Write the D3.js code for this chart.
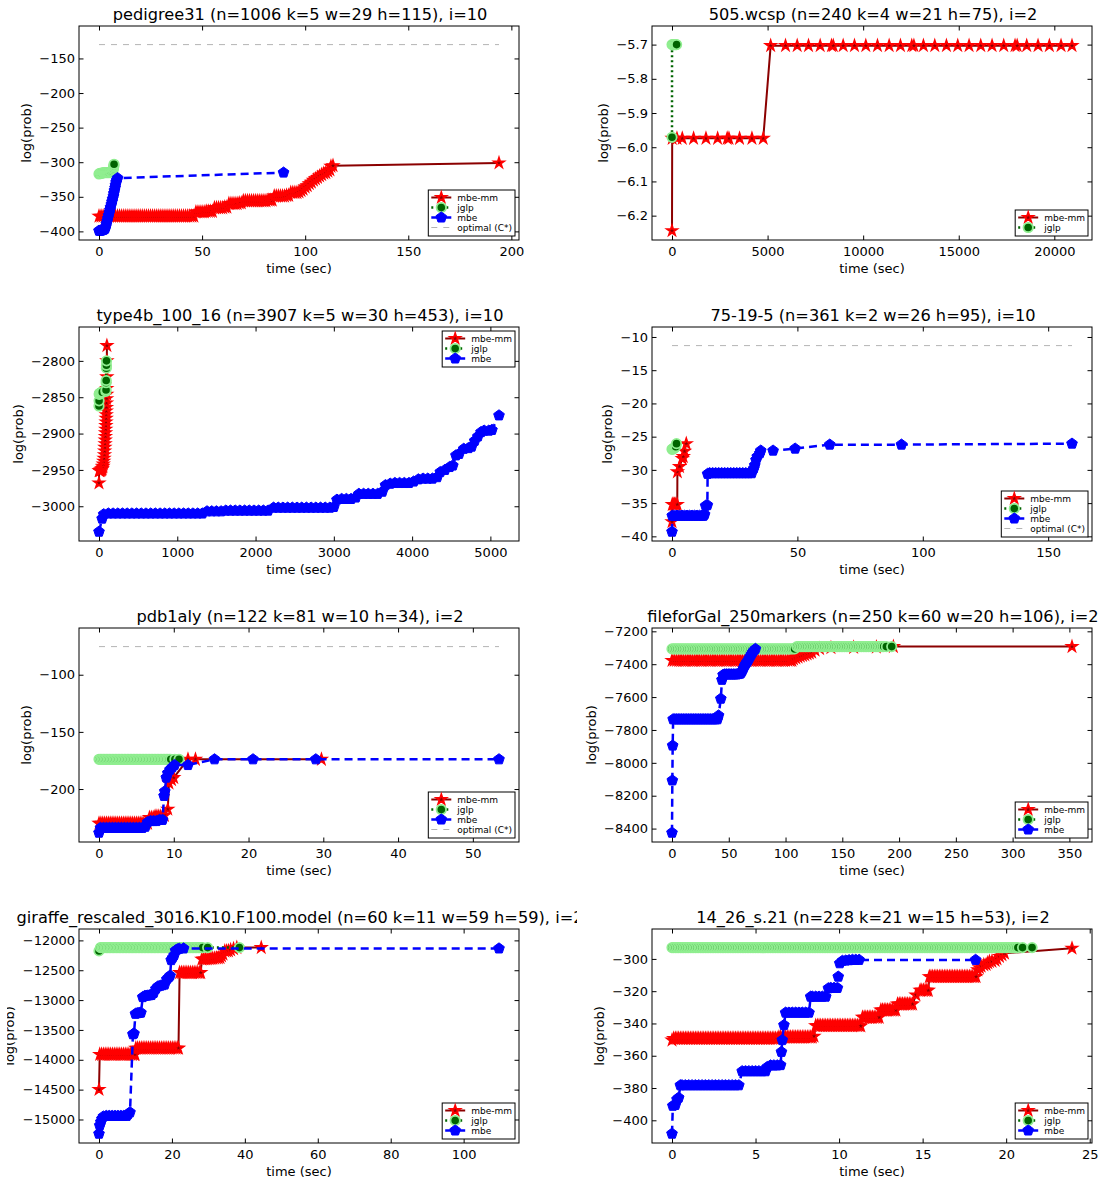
<!DOCTYPE html>
<html>
<head>
<meta charset="utf-8">
<script src="https://cdn.jsdelivr.net/npm/d3@7"></script>
<style>
  html, body { margin: 0; padding: 0; background: #fff; }
  svg { display: block; font-family: "DejaVu Sans", sans-serif; }
</style>
</head>
<body>
<svg id="chart" width="1103" height="1184"></svg>
<script>
// ---------- panel titles ----------
const titles = [
  "pedigree31 (n=1006 k=5 w=29 h=115), i=10",
  "505.wcsp (n=240 k=4 w=21 h=75), i=2",
  "type4b_100_16 (n=3907 k=5 w=30 h=453), i=10",
  "75-19-5 (n=361 k=2 w=26 h=95), i=10",
  "pdb1aly (n=122 k=81 w=10 h=34), i=2",
  "fileforGal_250markers (n=250 k=60 w=20 h=106), i=2",
  "giraffe_rescaled_3016.K10.F100.model (n=60 k=11 w=59 h=59), i=2",
  "14_26_s.21 (n=228 k=21 w=15 h=53), i=2"
];

// ---------- pedigree31 ----------
const pedigreeMbeMm = [[0,-378],[1,-378],[2,-378],[3,-378],[4,-378],[5,-378],[6,-378],[7,-378],[8,-378],[9,-378],[10,-378],[11,-378],[12,-378],[13,-378],[14,-378],[15,-378],[16,-378],[17,-378],[18,-378],[19,-378],[20,-378],[21,-378],[22,-378],[23,-378],[24,-378],[25,-378],[26,-378],[27,-378],[28,-378],[29,-378],[30,-378],[31,-378],[32,-378],[33,-378],[34,-378],[35,-378],[36,-378],[37,-378],[38,-378],[39,-378],[40,-378],[41,-378],[42,-378],[43,-378],[44,-378],[45,-378],[46,-378],
  [47,-372],[48,-372],[49,-372],[50,-372],[51,-372],[52,-371],[53,-371],[54,-371],[55,-371],
  [56,-366],[57,-366],[58,-366],[59,-366],[60,-366],[61,-365],[62,-365],
  [63,-360],[64,-360],[65,-360],[66,-360],[67,-360],[68,-359],[69,-359],
  [70,-356],[71,-356],[72,-356],[73,-356],[74,-356],[75,-356],[76,-356],[77,-356],[78,-356],[79,-356],[80,-356],[81,-356],[82,-355],[83,-355],[84,-355],
  [85,-349],[86,-349],[87,-349],[88,-349],[89,-349],[90,-349],[91,-348],[92,-348],
  [93,-344],[94,-344],[95,-344],[96,-344],[97,-343],
  [98,-341],[99,-339],[100,-336],[101,-334],[102,-331],[103,-329],[104,-326],[105,-324],[106,-322],[107,-320],[108,-318],[109,-316],[110,-315],[111,-313],[112,-311],[112.5,-306],[113.5,-305],[194,-301]];
const pedigreeJglp = [[0,-317],[0.5,-316],[1,-316],[1.5,-316],[2,-315],[2.5,-315],[3,-315],[3.5,-315],[4,-315],[4.5,-315],[5,-315],[5.5,-314],[6,-314],[6.5,-313],[6.8,-311],[7,-309],[7.1,-307],[7.2,-305],[7.3,-303]];
const pedigreeMbe = [[0,-399],[0.5,-399],[1,-399],[1.5,-398],[2,-398],[2.5,-397],[3,-396],[3.3,-393],[3.6,-389],[4,-385],[4.3,-381],[4.6,-377],[5,-373],[5.3,-369],[5.6,-365],[6,-361],[6.3,-357],[6.6,-353],[7,-349],[7.2,-345],[7.5,-341],[7.8,-337],[8,-333],[8.3,-329],[8.6,-326],[9,-323],[89.5,-315]];
const pedigreeOptimal = -130;
const pedigreeXTicks = [0, 50, 100, 150, 200];
const pedigreeYTicks = [-400, -350, -300, -250, -200, -150];

// ---------- 505.wcsp ----------
const wcspMbeMm = [[0,-6.244],[10,-5.974],[259,-5.974],[537,-5.974],[1129,-5.974],[1776,-5.974],[2387,-5.974],[2886,-5.974],[2979,-5.974],[3534,-5.974],[4181,-5.974],[4773,-5.974],
  [5162,-5.703],[5939,-5.703],[6550,-5.703],[7142,-5.703],[7752,-5.703],[8344,-5.703],[8437,-5.703],[8955,-5.703],[9547,-5.703],[10139,-5.703],[10750,-5.703],[11360,-5.703],[11952,-5.703],[12544,-5.703],[12655,-5.703],[13154,-5.703],[13747,-5.703],[14357,-5.703],[14949,-5.703],[15541,-5.703],[16152,-5.703],[16744,-5.703],[17354,-5.703],[17946,-5.703],[18057,-5.703],[18557,-5.703],[19149,-5.703],[19741,-5.703],[20352,-5.703],[20925,-5.703]];
const wcspJglp = [[0,-5.971],[2,-5.70],[50,-5.70],[100,-5.70],[150,-5.70],[200,-5.70],[240,-5.70]];
const wcspXTicks = [0, 5000, 10000, 15000, 20000];
const wcspYTicks = [-6.2, -6.1, -6.0, -5.9, -5.8, -5.7];

// ---------- type4b_100_16 ----------
const type4bMbeMm = [[0,-2968],[2,-2951],[8,-2951],[15,-2951],[22,-2950],[30,-2950],[35,-2949],[40,-2948],[45,-2946],[50,-2945],[55,-2942],[60,-2938],[65,-2934],[70,-2929],[72,-2924],[75,-2919],[78,-2914],[80,-2909],[82,-2904],[84,-2899],[86,-2894],[88,-2889],[90,-2884],[92,-2879],[93,-2874],[94,-2869],[95,-2864],[96,-2858],[97,-2852],[98,-2846],[99,-2838],[100,-2822],[100.5,-2800],[101,-2779]];
const type4bJglp = [[0,-2862],[1,-2855],[2,-2846],[6,-2845],[12,-2845],[18,-2844],[24,-2844],[30,-2844],[36,-2843],[42,-2843],[88,-2842],[90,-2840],[91,-2830],[92,-2827],[94,-2810],[95,-2806],[96,-2800]];
const type4bMbe = [[0,-3035],[40,-3017],[60,-3011],[120,-3010],[180,-3010],[240,-3010],[300,-3010],[360,-3010],[420,-3010],[480,-3010],[540,-3010],[600,-3010],[660,-3010],[720,-3010],[780,-3010],[840,-3010],[900,-3010],[960,-3010],[1020,-3010],[1080,-3010],[1140,-3010],[1200,-3010],[1260,-3010],[1320,-3010],
  [1380,-3007],[1440,-3007],[1500,-3007],[1560,-3007],[1620,-3006],[1680,-3006],[1740,-3006],[1800,-3006],[1860,-3006],[1920,-3006],[1980,-3006],[2040,-3006],[2100,-3006],[2160,-3006],
  [2230,-3002],[2290,-3002],[2350,-3002],[2410,-3002],[2470,-3002],[2530,-3002],[2590,-3002],[2650,-3002],[2710,-3002],[2770,-3002],[2830,-3002],[2890,-3002],[2950,-3002],[3000,-3001],
  [3040,-2991],[3100,-2990],[3160,-2990],[3220,-2990],[3280,-2988],[3320,-2983],[3380,-2983],[3440,-2983],[3500,-2983],[3560,-2983],[3620,-2980],[3660,-2971],[3720,-2969],[3780,-2968],[3840,-2968],[3900,-2968],[3960,-2968],
  [4020,-2966],[4080,-2963],[4140,-2962],[4200,-2962],[4260,-2962],[4320,-2960],[4360,-2953],[4420,-2950],[4480,-2946],[4520,-2944],[4560,-2930],[4600,-2928],[4660,-2921],[4720,-2920],[4760,-2918],[4800,-2910],[4840,-2904],[4880,-2898],[4920,-2896],[4980,-2896],[5020,-2895],[5110,-2875]];
const type4bXTicks = [0, 1000, 2000, 3000, 4000, 5000];
const type4bYTicks = [-3000, -2950, -2900, -2850, -2800];

// ---------- 75-19-5 ----------
const grid75MbeMm = [[0,-37.8],[0.1,-35.2],[0.5,-35.2],[1,-35.2],[1.5,-35.2],[2.1,-35.2],[2.15,-30.3],[3,-29.5],[4.1,-28.3],[4.5,-28],[5,-27.2],[5.7,-26.05]];
const grid75Jglp = [[0,-26.9],[0.3,-26.85],[0.6,-26.8],[0.9,-26.7],[1.2,-26.6],[1.5,-26.5],[1.8,-26.05]];
const grid75Mbe = [[0,-39.3],[0.1,-36.9],[1,-36.9],[2,-36.9],[3,-36.9],[4,-36.9],[5,-36.9],[6,-36.9],[7,-36.9],[8,-36.9],[9,-36.9],[10,-36.9],[11,-36.9],[12,-36.9],[12.6,-36.9],[13,-36.7],[13.4,-35.4],[14.1,-35.3],
  [14.2,-30.6],[15,-30.5],[16.2,-30.5],[17.4,-30.5],[18.6,-30.5],[19.8,-30.5],[21,-30.5],[22.2,-30.5],[23.4,-30.5],[24.6,-30.5],[25.8,-30.5],[27,-30.5],[28.2,-30.5],[29.4,-30.5],[30.6,-30.5],[31.8,-30.5],
  [32.6,-29.8],[33,-29.3],[33.5,-28.5],[34,-28],[35,-27.5],[35.4,-27.1],[40.3,-27.1],[49.1,-26.8],[62.9,-26.2],[91.5,-26.2],[159.5,-26.05]];
const grid75Optimal = -11.3;
const grid75XTicks = [0, 50, 100, 150];
const grid75YTicks = [-40, -35, -30, -25, -20, -15, -10];

// ---------- pdb1aly ----------
const pdbMbeMm = [[0,-230],[0.25,-230],[0.5,-230],[0.75,-230],[1,-230],[1.25,-230],[1.5,-230],[1.75,-230],[2,-230],[2.25,-230],[2.5,-230],[2.75,-230],[3,-230],[3.25,-230],[3.5,-230],[3.75,-230],[4,-230],[4.25,-230],[4.5,-230],[4.75,-230],[5,-230],[5.25,-230],[5.5,-230],[5.75,-230],[6,-230],[6.25,-230],[6.5,-230],
  [6.75,-225],[7,-225],[7.25,-225],[7.5,-224],[7.75,-224],[8,-224],[8.25,-224],[8.5,-224],[8.75,-223],[9.2,-217.6],[9.36,-194.8],[9.7,-191.9],[10,-190],[11.9,-174],[12.9,-174],[29.75,-174]];
const pdbJglp = [[0,-174],[0.2,-174],[0.4,-174],[0.6,-174],[0.8,-174],[1,-174],[1.2,-174],[1.4,-174],[1.6,-174],[1.8,-174],[2,-174],[2.2,-174],[2.4,-174],[2.6,-174],[2.8,-174],[3,-174],[3.2,-174],[3.4,-174],[3.6,-174],[3.8,-174],
  [4,-174],[4.2,-174],[4.4,-174],[4.6,-174],[4.8,-174],[5,-174],[5.2,-174],[5.4,-174],[5.6,-174],[5.8,-174],[6,-174],[6.2,-174],[6.4,-174],[6.6,-174],[6.8,-174],[7,-174],[7.2,-174],[7.4,-174],[7.6,-174],[7.8,-174],
  [8,-174],[8.2,-174],[8.4,-174],[8.6,-174],[8.8,-174],[9,-174],[9.2,-174],[9.4,-174],[9.6,-174],[10.15,-174],[10.7,-174]];
const pdbMbe = [[0,-238.2],[0.2,-234],[0.6,-234],[1,-234],[1.4,-234],[1.8,-234],[2.2,-234],[2.6,-234],[3,-234],[3.4,-234],[3.8,-234],[4.2,-234],[4.6,-234],[5,-234],[5.4,-234],[5.8,-234],[6.2,-233],
  [6.5,-229],[6.9,-228],[7.3,-228],[7.7,-228],[8.1,-227],[8.5,-227],[8.7,-206],[8.8,-202],[9,-190],[9.2,-186],[9.5,-183],[9.8,-181],[10.1,-179],[11.9,-179],[15.45,-174],[20.6,-174],[29,-174],[53.5,-174]];
const pdbOptimal = -75.4;
const pdbXTicks = [0, 10, 20, 30, 40, 50];
const pdbYTicks = [-200, -150, -100];

// ---------- fileforGal_250markers ----------
const gal250MbeMm = [[0,-7377],[2,-7377],[4,-7377],[6,-7377],[8,-7377],[10,-7377],[12,-7377],[14,-7377],[16,-7377],[18,-7377],[20,-7377],[22,-7377],[24,-7377],[26,-7377],[28,-7377],[30,-7377],[32,-7377],[34,-7377],[36,-7377],[38,-7377],[40,-7377],[42,-7377],[44,-7377],[46,-7377],[48,-7377],[50,-7377],[52,-7377],[54,-7377],[56,-7377],[58,-7377],[60,-7377],[62,-7377],[64,-7377],[66,-7377],[68,-7377],[70,-7377],[72,-7377],[74,-7377],[76,-7377],[78,-7377],[80,-7377],[82,-7377],[84,-7377],[86,-7377],[88,-7377],[90,-7377],[92,-7377],[94,-7377],[96,-7377],[98,-7377],[100,-7377],[102,-7377],[104,-7377],[105.6,-7377],
  [107,-7368],[109,-7362],[111,-7357],[113,-7352],[115,-7347],[117,-7343],[119,-7338],[121,-7333],[123,-7327],[126,-7315],[130,-7305],[140,-7300],[160,-7298],[180,-7296],[195,-7293],[352.3,-7293]];
const gal250Jglp = [[0,-7307],[1.5,-7307],[3,-7307],[4.5,-7307],[6,-7307],[7.5,-7307],[9,-7307],[10.5,-7307],[12,-7307],[13.5,-7307],[15,-7307],[16.5,-7307],[18,-7307],[19.5,-7307],[21,-7307],[22.5,-7307],[24,-7307],[25.5,-7307],[27,-7307],[28.5,-7307],
  [30,-7307],[31.5,-7307],[33,-7307],[34.5,-7307],[36,-7307],[37.5,-7307],[39,-7307],[40.5,-7307],[42,-7307],[43.5,-7307],[45,-7307],[46.5,-7307],[48,-7307],[49.5,-7307],[51,-7307],[52.5,-7307],[54,-7307],[55.5,-7307],[57,-7307],[58.5,-7307],
  [60,-7307],[61.5,-7307],[63,-7307],[64.5,-7307],[66,-7307],[67.5,-7307],[69,-7307],[70.5,-7307],[72,-7307],[73.5,-7307],[75,-7307],[76.5,-7307],[78,-7307],[79.5,-7307],[81,-7307],[82.5,-7307],[84,-7307],[85.5,-7307],[87,-7307],[88.5,-7307],
  [90,-7307],[91.5,-7307],[93,-7307],[94.5,-7307],[96,-7307],[97.5,-7307],[99,-7307],[100.5,-7307],[102,-7307],[103.5,-7307],[105,-7307],[106.5,-7307],[108,-7307],
  [110,-7293],[111.5,-7293],[113,-7293],[114.5,-7293],[116,-7293],[117.5,-7293],[119,-7293],[120.5,-7293],[122,-7293],[123.5,-7293],[125,-7293],[126.5,-7293],[128,-7293],[129.5,-7293],[131,-7293],[132.5,-7293],[134,-7293],[135.5,-7293],[137,-7293],[138.5,-7293],
  [140,-7293],[141.5,-7293],[143,-7293],[144.5,-7293],[146,-7293],[147.5,-7293],[149,-7293],[150.5,-7293],[152,-7293],[153.5,-7293],[155,-7293],[156.5,-7293],[158,-7293],[159.5,-7293],[161,-7293],[162.5,-7293],[164,-7293],[165.5,-7293],[167,-7293],[168.5,-7293],
  [170,-7293],[171.5,-7293],[173,-7293],[174.5,-7293],[176,-7293],[177.5,-7293],[179,-7293],[180.5,-7293],[182,-7293],[183.5,-7293],[185,-7293],[186.5,-7293],[188.8,-7293],[193.5,-7293]];
const gal250Mbe = [[0,-8425],[0.3,-8107],[0.6,-7895],[1,-7735],[2.5,-7735],[4,-7735],[5.5,-7735],[7,-7735],[8.5,-7735],[10,-7735],[11.5,-7735],[13,-7735],[14.5,-7735],[16,-7735],[17.5,-7735],[19,-7735],[20.5,-7735],[22,-7735],[23.5,-7735],[25,-7735],[26.5,-7735],[28,-7735],[29.5,-7735],[31,-7735],[32.5,-7735],[34,-7735],[35.5,-7735],[37,-7735],[38.5,-7735],[40,-7735],
  [41,-7712],[43,-7610],[44,-7495],[45,-7465],[46.5,-7462],[48,-7462],[49.5,-7462],[51,-7462],[52.5,-7462],[54,-7462],[55.5,-7462],[57,-7462],[58.5,-7460],[60,-7458],[61,-7452],[62,-7440],[63,-7425],[64,-7410],[65,-7398],[66,-7388],[67,-7378],[68,-7365],[69,-7352],[70,-7340],[71,-7328],[72,-7318],[73.5,-7307]];
const gal250XTicks = [0, 50, 100, 150, 200, 250, 300, 350];
const gal250YTicks = [-8400, -8200, -8000, -7800, -7600, -7400, -7200];

// ---------- giraffe_rescaled_3016 ----------
const giraffeMbeMm = [[0,-14498],[0.2,-13910],[0.7,-13910],[1.2,-13910],[1.7,-13910],[2.2,-13910],[2.7,-13910],[3.2,-13910],[3.7,-13910],[4.2,-13910],[4.7,-13910],[5.2,-13910],[5.7,-13910],[6.2,-13910],[6.7,-13910],[7.2,-13910],[7.7,-13910],[8.2,-13910],[8.7,-13910],[9.2,-13910],[9.7,-13910],[9.9,-13910],
  [10.1,-13805],[10.6,-13805],[11.1,-13805],[11.6,-13805],[12.1,-13805],[12.6,-13805],[13.1,-13805],[13.6,-13805],[14.1,-13805],[14.6,-13805],[15.1,-13805],[15.6,-13805],[16.1,-13805],[16.6,-13805],[17.1,-13805],[17.6,-13805],[18.1,-13805],[18.6,-13805],[19.1,-13805],[19.6,-13805],[20.1,-13805],[20.6,-13805],[21.1,-13805],[21.6,-13805],[21.8,-13805],
  [22.1,-12540],[22.6,-12540],[23.1,-12540],[23.6,-12540],[24.1,-12540],[24.6,-12540],[25.1,-12540],[25.6,-12540],[26.1,-12540],[26.6,-12540],[27.1,-12540],[27.6,-12540],[27.9,-12540],
  [28.2,-12315],[28.7,-12312],[29.2,-12310],[29.7,-12310],[30.2,-12307],[30.7,-12305],[31.2,-12302],[31.7,-12300],[32.2,-12295],[32.7,-12292],[33.2,-12288],[33.6,-12260],[34,-12230],[34.5,-12180],[35,-12178],[35.5,-12175],[36.1,-12160],[36.9,-12140],[37.8,-12121],[44.5,-12121]];
const giraffeJglp = [[0,-12176],[0.4,-12121],[0.8,-12121],[1.2,-12121],[1.6,-12121],[2,-12121],[2.4,-12121],[2.8,-12121],[3.2,-12121],[3.6,-12121],[4,-12121],[4.4,-12121],[4.8,-12121],[5.2,-12121],[5.6,-12121],[6,-12121],[6.4,-12121],[6.8,-12121],[7.2,-12121],[7.6,-12121],
  [8,-12121],[8.4,-12121],[8.8,-12121],[9.2,-12121],[9.6,-12121],[10,-12121],[10.4,-12121],[10.8,-12121],[11.2,-12121],[11.6,-12121],[12,-12121],[12.4,-12121],[12.8,-12121],[13.2,-12121],[13.6,-12121],[14,-12121],[14.4,-12121],[14.8,-12121],[15.2,-12121],[15.6,-12121],
  [16,-12121],[16.4,-12121],[16.8,-12121],[17.2,-12121],[17.6,-12121],[18,-12121],[18.4,-12121],[18.8,-12121],[19.2,-12121],[19.6,-12121],[20,-12121],[20.4,-12121],[20.8,-12121],[21.2,-12121],[21.6,-12121],[22,-12121],[22.4,-12121],[22.8,-12121],[23.2,-12121],[23.6,-12121],
  [24,-12121],[24.4,-12121],[24.8,-12121],[25.2,-12121],[25.6,-12121],[26,-12121],[26.4,-12121],[26.8,-12121],[27.2,-12121],[27.6,-12121],[28,-12121],[28.4,-12121],[29.8,-12121],[38.5,-12121]];
const giraffeMbe = [[0,-15238],[0.2,-15100],[0.5,-15040],[0.8,-14990],[1.2,-14950],[2,-14940],[2.8,-14940],[3.6,-14940],[4.4,-14940],[5.2,-14940],[6,-14940],[6.8,-14940],[7.6,-14940],[8,-14910],[8.5,-14880],
  [9.3,-13572],[9.6,-13560],[10,-13230],[10.5,-13220],[11,-13215],[11.5,-13210],[12,-12950],[12.6,-12930],[13.2,-12925],[13.8,-12920],[14.4,-12915],[15,-12880],[15.6,-12810],[16.2,-12770],[16.8,-12760],[17.4,-12750],[18,-12740],[18.6,-12650],[19.1,-12620],[19.5,-12590],[19.8,-12330],[20.2,-12290],[20.6,-12250],[21,-12170],[21.5,-12150],[22,-12140],[23.2,-12135],[109.7,-12135]];
const giraffeXTicks = [0, 20, 40, 60, 80, 100];
const giraffeYTicks = [-15000, -14500, -14000, -13500, -13000, -12500, -12000];

// ---------- 14_26_s.21 ----------
const s21MbeMm = [[0,-350.3],
  [0.1,-349.3],[0.2,-349.3],[0.3,-349.3],[0.4,-349.3],[0.5,-349.3],[0.6,-349.3],[0.7,-349.3],[0.8,-349.3],[0.9,-349.3],[1,-349.3],[1.1,-349.3],[1.2,-349.3],[1.3,-349.3],[1.4,-349.3],[1.5,-349.3],[1.6,-349.3],[1.7,-349.3],[1.8,-349.3],[1.9,-349.3],[2,-349.3],
  [2.1,-349.3],[2.2,-349.3],[2.3,-349.3],[2.4,-349.3],[2.5,-349.3],[2.6,-349.3],[2.7,-349.3],[2.8,-349.3],[2.9,-349.3],[3,-349.3],[3.1,-349.3],[3.2,-349.3],[3.3,-349.3],[3.4,-349.3],[3.5,-349.3],[3.6,-349.3],[3.7,-349.3],[3.8,-349.3],[3.9,-349.3],[4,-349.3],
  [4.1,-349.3],[4.2,-349.3],[4.3,-349.3],[4.4,-349.3],[4.5,-349.3],[4.6,-349.3],[4.7,-349.3],[4.8,-349.3],[4.9,-349.3],[5,-349.3],[5.1,-349.3],[5.2,-349.3],[5.3,-349.3],[5.4,-349.3],[5.5,-349.3],[5.6,-349.3],[5.7,-349.3],[5.8,-349.3],[5.9,-349.3],[6,-349.3],
  [6.1,-349.3],[6.2,-349.3],[6.3,-349.3],[6.4,-348.5],[6.5,-348.5],[6.6,-348.5],[6.7,-348.5],[6.8,-348.5],[6.9,-348.5],[7,-348.5],[7.1,-348.5],[7.2,-348.5],[7.3,-348.5],[7.4,-348.5],[7.5,-348.5],[7.6,-348.5],[7.7,-348.5],[7.8,-348.5],[7.9,-348.5],[8,-348.5],
  [8.1,-348.5],[8.2,-348.5],[8.3,-348.5],[8.4,-348.5],[8.5,-347.9],
  [8.6,-341.4],[8.7,-341.4],[8.8,-341.4],[8.9,-341.4],[9,-341.4],[9.1,-341.4],[9.2,-341.4],[9.3,-341.4],[9.4,-341.4],[9.5,-341.4],[9.6,-341.4],[9.7,-341.4],[9.8,-341.4],[9.9,-341.4],[10,-341.4],
  [10.1,-341.4],[10.2,-341.4],[10.3,-341.4],[10.4,-341.4],[10.5,-341.4],[10.6,-341.4],[10.7,-341.4],[10.8,-341.4],[10.9,-341.4],[11,-341.4],[11.1,-341.4],[11.2,-341.4],[11.3,-341.6],
  [11.4,-336.2],[11.5,-336.2],[11.6,-336.2],[11.7,-336.2],[11.8,-336.2],[11.9,-336.2],[12,-336.2],[12.1,-336.2],[12.2,-336.2],[12.3,-336.2],[12.4,-336.2],
  [12.5,-331.7],[12.6,-331.7],[12.7,-331.7],[12.8,-331.7],[12.9,-331.7],[13,-331.7],[13.1,-331.7],[13.2,-331.7],[13.3,-331.7],[13.4,-331.7],
  [13.5,-328],[13.6,-328],[13.7,-328],[13.8,-328],[13.9,-328],[14,-328],[14.1,-328],[14.2,-328],[14.3,-328],[14.4,-328],
  [14.6,-322.4],[14.85,-319.5],[14.95,-319.5],[15.05,-319.5],[15.15,-319.5],[15.25,-319.5],[15.34,-319.5],
  [15.4,-311],[15.5,-311],[15.6,-311],[15.7,-311],[15.8,-311],[15.9,-311],[16,-311],[16.1,-311],[16.2,-311],[16.3,-311],[16.4,-311],[16.5,-311],[16.6,-311],[16.7,-311],[16.8,-311],
  [16.9,-311],[17,-311],[17.1,-311],[17.2,-311],[17.3,-311],[17.4,-311],[17.5,-311],[17.6,-311],[17.7,-311],[17.8,-311],[17.9,-311],[18,-311],[18.1,-311],[18.2,-311],
  [18.3,-306.8],[18.4,-305.5],[18.5,-304.5],[18.66,-303.7],[18.8,-303.5],[18.9,-302.5],[19,-301.7],[19.15,-301.5],[19.34,-301],[19.45,-300],[19.6,-298.5],[19.75,-297.5],[19.9,-296.5],[23.94,-293.4]];
const s21Jglp = [[0,-293],[0.1,-293],[0.2,-293],[0.3,-293],[0.4,-293],[0.5,-293],[0.6,-293],[0.7,-293],[0.8,-293],[0.9,-293],[1,-293],[1.1,-293],[1.2,-293],[1.3,-293],[1.4,-293],[1.5,-293],[1.6,-293],[1.7,-293],[1.8,-293],[1.9,-293],
  [2,-293],[2.1,-293],[2.2,-293],[2.3,-293],[2.4,-293],[2.5,-293],[2.6,-293],[2.7,-293],[2.8,-293],[2.9,-293],[3,-293],[3.1,-293],[3.2,-293],[3.3,-293],[3.4,-293],[3.5,-293],[3.6,-293],[3.7,-293],[3.8,-293],[3.9,-293],
  [4,-293],[4.1,-293],[4.2,-293],[4.3,-293],[4.4,-293],[4.5,-293],[4.6,-293],[4.7,-293],[4.8,-293],[4.9,-293],[5,-293],[5.1,-293],[5.2,-293],[5.3,-293],[5.4,-293],[5.5,-293],[5.6,-293],[5.7,-293],[5.8,-293],[5.9,-293],
  [6,-293],[6.1,-293],[6.2,-293],[6.3,-293],[6.4,-293],[6.5,-293],[6.6,-293],[6.7,-293],[6.8,-293],[6.9,-293],[7,-293],[7.1,-293],[7.2,-293],[7.3,-293],[7.4,-293],[7.5,-293],[7.6,-293],[7.7,-293],[7.8,-293],[7.9,-293],
  [8,-293],[8.1,-293],[8.2,-293],[8.3,-293],[8.4,-293],[8.5,-293],[8.6,-293],[8.7,-293],[8.8,-293],[8.9,-293],[9,-293],[9.1,-293],[9.2,-293],[9.3,-293],[9.4,-293],[9.5,-293],[9.6,-293],[9.7,-293],[9.8,-293],[9.9,-293],
  [10,-293],[10.1,-293],[10.2,-293],[10.3,-293],[10.4,-293],[10.5,-293],[10.6,-293],[10.7,-293],[10.8,-293],[10.9,-293],[11,-293],[11.1,-293],[11.2,-293],[11.3,-293],[11.4,-293],[11.5,-293],[11.6,-293],[11.7,-293],[11.8,-293],[11.9,-293],
  [12,-293],[12.1,-293],[12.2,-293],[12.3,-293],[12.4,-293],[12.5,-293],[12.6,-293],[12.7,-293],[12.8,-293],[12.9,-293],[13,-293],[13.1,-293],[13.2,-293],[13.3,-293],[13.4,-293],[13.5,-293],[13.6,-293],[13.7,-293],[13.8,-293],[13.9,-293],
  [14,-293],[14.1,-293],[14.2,-293],[14.3,-293],[14.4,-293],[14.5,-293],[14.6,-293],[14.7,-293],[14.8,-293],[14.9,-293],[15,-293],[15.1,-293],[15.2,-293],[15.3,-293],[15.4,-293],[15.5,-293],[15.6,-293],[15.7,-293],[15.8,-293],[15.9,-293],
  [16,-293],[16.1,-293],[16.2,-293],[16.3,-293],[16.4,-293],[16.5,-293],[16.6,-293],[16.7,-293],[16.8,-293],[16.9,-293],[17,-293],[17.1,-293],[17.2,-293],[17.3,-293],[17.4,-293],[17.5,-293],[17.6,-293],[17.7,-293],[17.8,-293],[17.9,-293],
  [18,-293],[18.1,-293],[18.2,-293],[18.3,-293],[18.4,-293],[18.5,-293],[18.6,-293],[18.7,-293],[18.8,-293],[18.9,-293],[19,-293],[19.1,-293],[19.2,-293],[19.3,-293],[19.4,-293],[19.5,-293],[19.6,-293],[19.7,-293],[19.8,-293],[19.9,-293],
  [20,-293],[20.1,-293],[20.2,-293],[20.3,-293],[20.4,-293],[20.5,-293],[20.6,-293],[20.7,-293],[20.98,-293],[21.55,-293]];
const s21Mbe = [[0,-408.3],[0.05,-391],[0.2,-390.5],[0.3,-387],[0.4,-386],[0.5,-378.3],[0.6,-378.3],[0.8,-378.3],[1,-378.3],[1.2,-378.3],[1.4,-378.3],[1.6,-378.3],[1.8,-378.3],[2,-378.3],[2.2,-378.3],[2.4,-378.3],[2.6,-378.3],[2.8,-378.3],[3,-378.3],[3.2,-378.3],[3.4,-378.3],[3.6,-378.3],[3.8,-378.3],[4,-378.3],
  [4.2,-369.6],[4.4,-369.6],[4.6,-369.6],[4.8,-369.6],[5,-369.6],[5.2,-369.6],[5.4,-369.6],[5.6,-369.6],[5.7,-367],[5.9,-366],[6.1,-366],[6.3,-366],[6.5,-365.8],[6.55,-357.6],[6.6,-350.3],[6.7,-341],[6.8,-333.3],
  [7,-333.3],[7.2,-333.3],[7.4,-333.3],[7.6,-333.3],[7.8,-333.3],[8,-333.3],[8.2,-333.3],[8.3,-323.4],[8.4,-323.4],[8.6,-323.4],[8.8,-323.4],[9,-323.4],[9.2,-323.4],
  [9.36,-318.2],[9.5,-318],[9.7,-318],[9.9,-318],[9.95,-311],[10.04,-302.7],[10.2,-301.2],[10.4,-301],[10.6,-300.8],[10.8,-300.6],[11,-300.6],[11.2,-300.6],[18.17,-300.6]];
const s21XTicks = [0, 5, 10, 15, 20, 25];
const s21YTicks = [-400, -380, -360, -340, -320, -300];

// ---------- styles ----------
const SERIES_KEYS = ["mbeMm", "jglp", "mbe"];
const STYLE = {
  mbeMm: { label: "mbe-mm", line: "#8b0000", width: 2, dash: null, marker: "star", fill: "#8b0000", stroke: "#ff0000", sw: 1.8 },
  jglp:  { label: "jglp", line: "#006400", width: 2.5, dash: "2,3", marker: "circle", fill: "#006400", stroke: "#90ee90", sw: 1.8 },
  mbe:   { label: "mbe", line: "#0000ff", width: 2.5, dash: "8,5", marker: "pentagon", fill: "#0000ff", stroke: "#0000ff", sw: 1 },
  optimal: { label: "optimal (C*)", line: "#b4b4b4", width: 1, dash: "6,6" }
};

function polyPath(pts) {
  return "M" + pts.map(p => p[0].toFixed(2) + "," + p[1].toFixed(2)).join("L") + "Z";
}
const MARKER = {
  star: (() => {
    const R = 5.2, r = R * 0.381966, pts = [];
    for (let k = 0; k < 10; k++) {
      const a = -Math.PI / 2 + k * Math.PI / 5, rr = k % 2 === 0 ? R : r;
      pts.push([rr * Math.cos(a), rr * Math.sin(a)]);
    }
    return polyPath(pts);
  })(),
  circle: (() => { const r = 4.7; return `M${r},0A${r},${r} 0 1 1 ${-r},0A${r},${r} 0 1 1 ${r},0Z`; })(),
  pentagon: (() => {
    const R = 5.6, pts = [];
    for (let k = 0; k < 5; k++) {
      const a = -Math.PI / 2 + k * 2 * Math.PI / 5;
      pts.push([R * Math.cos(a), R * Math.sin(a)]);
    }
    return polyPath(pts);
  })()
};

const fmtInt = d3.format("d");
const fmtOne = d3.format(".1f");

const panels = [
  { title: titles[0], series: { mbeMm: pedigreeMbeMm, jglp: pedigreeJglp, mbe: pedigreeMbe }, optimal: pedigreeOptimal, xTicks: pedigreeXTicks, yTicks: pedigreeYTicks, yFmt: fmtInt, legend: "lower" },
  { title: titles[1], series: { mbeMm: wcspMbeMm, jglp: wcspJglp }, optimal: null, xTicks: wcspXTicks, yTicks: wcspYTicks, yFmt: fmtOne, legend: "lower" },
  { title: titles[2], series: { mbeMm: type4bMbeMm, jglp: type4bJglp, mbe: type4bMbe }, optimal: null, xTicks: type4bXTicks, yTicks: type4bYTicks, yFmt: fmtInt, legend: "upper" },
  { title: titles[3], series: { mbeMm: grid75MbeMm, jglp: grid75Jglp, mbe: grid75Mbe }, optimal: grid75Optimal, xTicks: grid75XTicks, yTicks: grid75YTicks, yFmt: fmtInt, legend: "lower" },
  { title: titles[4], series: { mbeMm: pdbMbeMm, jglp: pdbJglp, mbe: pdbMbe }, optimal: pdbOptimal, xTicks: pdbXTicks, yTicks: pdbYTicks, yFmt: fmtInt, legend: "lower" },
  { title: titles[5], series: { mbeMm: gal250MbeMm, jglp: gal250Jglp, mbe: gal250Mbe }, optimal: null, xTicks: gal250XTicks, yTicks: gal250YTicks, yFmt: fmtInt, legend: "lower" },
  { title: titles[6], series: { mbeMm: giraffeMbeMm, jglp: giraffeJglp, mbe: giraffeMbe }, optimal: null, xTicks: giraffeXTicks, yTicks: giraffeYTicks, yFmt: fmtInt, legend: "lower" },
  { title: titles[7], series: { mbeMm: s21MbeMm, jglp: s21Jglp, mbe: s21Mbe }, optimal: null, xTicks: s21XTicks, yTicks: s21YTicks, yFmt: fmtInt, legend: "lower" }
];

// ---------- layout ----------
const colLeft = [79, 652];
const rowTop = [26, 327, 628, 929];
const PW = 440, PH = 214, TICK = 4.5, FONT = 13;

const svg = d3.select("#chart");
const defs = svg.append("defs");
defs.append("clipPath").attr("id", "left-edge").append("rect").attr("x", 7).attr("y", 0).attr("width", 1100).attr("height", 1184);
defs.append("clipPath").attr("id", "left-column").append("rect").attr("x", 0).attr("y", 0).attr("width", 577).attr("height", 1184);

function drawMarker(sel, st) {
  sel.attr("d", MARKER[st.marker])
    .attr("fill", st.fill)
    .attr("stroke", st.stroke)
    .attr("stroke-width", st.sw)
    .attr("stroke-linejoin", "miter");
}

panels.forEach((p, i) => {
  const col = i % 2, L = colLeft[col], T0 = rowTop[Math.floor(i / 2)];
  const all = [];
  SERIES_KEYS.forEach(k => { if (p.series[k]) all.push(...p.series[k]); });
  const tMax = d3.max(all, d => d[0]);
  const vals = all.map(d => d[1]);
  if (p.optimal != null) vals.push(p.optimal);
  const vMin = d3.min(vals), vMax = d3.max(vals), span = vMax - vMin;

  const x = d3.scaleLinear().domain([-0.05 * tMax, 1.05 * tMax]).range([L, L + PW]);
  const y = d3.scaleLinear().domain([vMin - 0.05 * span, vMax + 0.1 * span]).range([T0 + PH, T0]);

  const g = svg.append("g").attr("class", "panel");
  const clipId = "plot-clip-" + i;
  defs.append("clipPath").attr("id", clipId).append("rect")
    .attr("x", L).attr("y", T0).attr("width", PW).attr("height", PH);
  const plot = g.append("g").attr("clip-path", `url(#${clipId})`);

  // series: line first, then its markers
  SERIES_KEYS.forEach(k => {
    const data = p.series[k];
    if (!data) return;
    const st = STYLE[k];
    plot.append("path").datum(data)
      .attr("d", d3.line().x(d => x(d[0])).y(d => y(d[1])))
      .attr("fill", "none")
      .attr("stroke", st.line)
      .attr("stroke-width", st.width)
      .attr("stroke-linejoin", "round")
      .attr("stroke-dasharray", st.dash);
    plot.append("g").selectAll("path").data(data).join("path")
      .attr("transform", d => `translate(${x(d[0])},${y(d[1])})`)
      .call(drawMarker, st);
  });

  if (p.optimal != null) {
    plot.append("line")
      .attr("x1", x(0)).attr("x2", x(tMax))
      .attr("y1", y(p.optimal)).attr("y2", y(p.optimal))
      .attr("stroke", STYLE.optimal.line)
      .attr("stroke-width", STYLE.optimal.width)
      .attr("stroke-dasharray", STYLE.optimal.dash);
  }

  // inward ticks on all four sides
  const ax = g.append("g");
  const bottom = ax.append("g").attr("transform", `translate(0,${T0 + PH})`)
    .call(d3.axisBottom(x).tickValues(p.xTicks).tickFormat(fmtInt).tickSizeInner(-TICK).tickSizeOuter(0).tickPadding(6.8));
  const top = ax.append("g").attr("transform", `translate(0,${T0})`)
    .call(d3.axisTop(x).tickValues(p.xTicks).tickFormat("").tickSizeInner(-TICK).tickSizeOuter(0));
  const left = ax.append("g").attr("transform", `translate(${L},0)`)
    .call(d3.axisLeft(y).tickValues(p.yTicks).tickFormat(p.yFmt).tickSizeInner(-TICK).tickSizeOuter(0).tickPadding(4));
  const right = ax.append("g").attr("transform", `translate(${L + PW},0)`)
    .call(d3.axisRight(y).tickValues(p.yTicks).tickFormat("").tickSizeInner(-TICK).tickSizeOuter(0));
  [bottom, top, left, right].forEach(a => {
    a.select(".domain").remove();
    a.attr("font-family", null).attr("font-size", FONT);
    a.selectAll("line").attr("stroke", "#000").attr("stroke-width", 1);
    a.selectAll("text").attr("fill", "#000");
  });

  g.append("rect").attr("x", L).attr("y", T0).attr("width", PW).attr("height", PH)
    .attr("fill", "none").attr("stroke", "#000").attr("stroke-width", 1);

  // labels
  g.append("text").attr("x", L + PW / 2).attr("y", T0 + PH + 33)
    .attr("text-anchor", "middle").attr("font-size", FONT).text("time (sec)");
  let tickLeft = Infinity;
  left.selectAll("text").each(function () { tickLeft = Math.min(tickLeft, this.getBBox().x); });
  const ylx = L + tickLeft - 13;
  g.append("g").attr("clip-path", "url(#left-edge)")
    .append("text").attr("transform", `translate(${ylx},${T0 + PH / 2}) rotate(-90)`)
    .attr("text-anchor", "middle").attr("dy", "0.35em").attr("font-size", FONT)
    .text("log(prob)");
  const tt = g.append("text").attr("x", L + PW / 2 + 1).attr("y", T0 - 6)
    .attr("text-anchor", "middle").attr("font-size", 16.2).text(p.title);
  if (col === 0) tt.attr("clip-path", "url(#left-column)");

  // legend
  const entries = SERIES_KEYS.filter(k => p.series[k]);
  if (p.optimal != null) entries.push("optimal");
  const lg = g.append("g");
  const box = lg.append("rect").attr("fill", "#fff").attr("stroke", "#000").attr("stroke-width", 1);
  let maxW = 0;
  const rows = entries.map((k, j) => {
    const row = lg.append("g");
    const txt = row.append("text").attr("font-size", 9).attr("dy", "0.35em").text(STYLE[k].label);
    maxW = Math.max(maxW, txt.node().getComputedTextLength());
    return { row, txt, k, j };
  });
  const bw = 29 + maxW + 3, bh = 10 * entries.length + 6;
  const bx = L + PW - 4 - bw;
  const by = p.legend === "upper" ? T0 + 4 : T0 + PH - 4 - bh;
  box.attr("x", bx).attr("y", by).attr("width", bw).attr("height", bh);
  rows.forEach(({ row, txt, k, j }) => {
    const cy = by + 7.5 + 10 * j;
    const st = STYLE[k];
    row.insert("line", "text").attr("x1", bx + 3).attr("x2", bx + 23).attr("y1", cy).attr("y2", cy)
      .attr("stroke", st.line).attr("stroke-width", st.width).attr("stroke-dasharray", st.dash);
    if (st.marker) {
      row.insert("path", "text").attr("transform", `translate(${bx + 13},${cy})`).call(drawMarker, st);
    }
    txt.attr("x", bx + 29).attr("y", cy);
  });
});
</script>
</body>
</html>
